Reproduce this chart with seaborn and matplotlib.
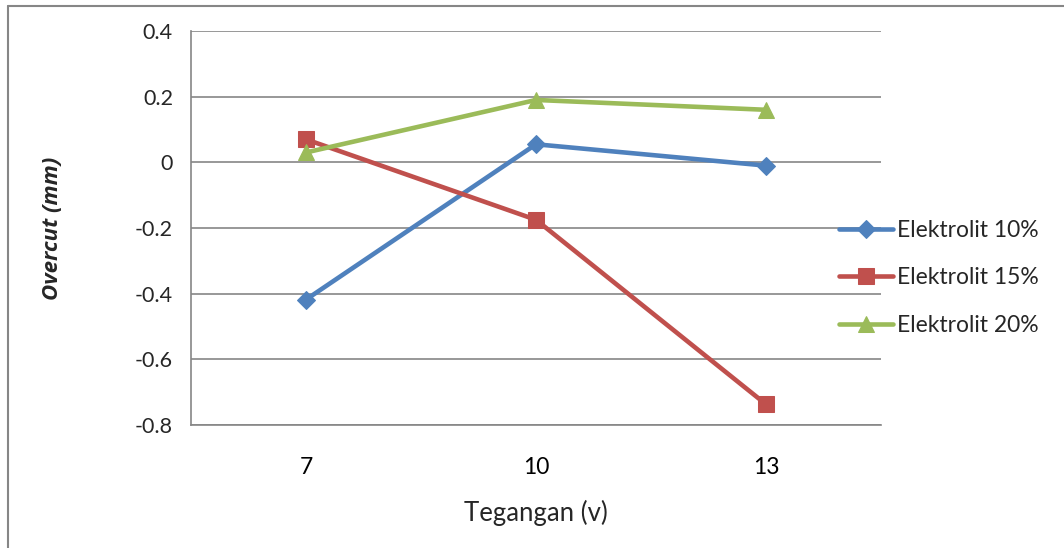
import numpy as np
import pandas as pd
import matplotlib
matplotlib.use('Agg')
from matplotlib import pyplot as plt
from matplotlib.lines import Line2D
import seaborn as sns

tegangan = ["7", "10", "13"]
series = ["Elektrolit 10%", "Elektrolit 15%", "Elektrolit 20%"]
elektrolit_10 = [-0.418, 0.055, -0.01]
elektrolit_15 = [0.07, -0.175, -0.737]
elektrolit_20 = [0.03, 0.19, 0.16]

rows = []
for name, vals in zip(series, [elektrolit_10, elektrolit_15, elektrolit_20]):
    for i, v in enumerate(vals):
        rows.append({"pos": i, "Tegangan": tegangan[i], "Overcut": v, "Series": name})
df = pd.DataFrame(rows)

sns.set_theme(style="white")
plt.rcParams['font.family'] = ['Lato', 'DejaVu Sans']

colors = ["#4F81BD", "#C0504D", "#9BBB59"]
markers = ["D", "s", "^"]
msizes = [9, 11, 12]
axis_col = "#868686"

fig = plt.figure(figsize=(10.64, 5.48), dpi=100)
ax = fig.add_axes([191/1064, 1-425/548, 690/1064, 394/548])

for name, c, m, ms in zip(series, colors, markers, msizes):
    sub = df[df["Series"] == name]
    sns.lineplot(data=sub, x="pos", y="Overcut", ax=ax, color=c, marker=m,
                 markersize=ms, markeredgecolor=c, linewidth=3.3, label=name)

ax.set_xlim(-0.5, 2.5)
ax.set_ylim(-0.8, 0.4)
ax.set_yticks(np.arange(-0.8, 0.41, 0.2))
ax.set_yticklabels(["-0.8", "-0.6", "-0.4", "-0.2", "0", "0.2", "0.4"])
ax.set_xticks([0, 1, 2])
ax.set_xticklabels(tegangan)
ax.set_xticks([-0.5, 0.5, 1.5, 2.5], minor=True)
ax.tick_params(axis="x", which="major", length=0, pad=23, labelsize=16.5, colors="black")
ax.tick_params(axis="x", which="minor", length=7, width=1.2, color=axis_col, direction="out")
ax.tick_params(axis="y", length=7, width=1.2, color=axis_col, direction="out", pad=6, labelsize=15.5)
ax.yaxis.grid(True, color=axis_col, linewidth=1.2)
ax.xaxis.grid(False)

for s in ["top", "right"]:
    ax.spines[s].set_visible(False)
for s in ["left", "bottom"]:
    ax.spines[s].set_color(axis_col)
    ax.spines[s].set_linewidth(1.2)

ax.set_xlabel("Tegangan (v)", fontsize=18.5, labelpad=16)
ax.set_ylabel("Overcut (mm)", fontsize=16, fontweight="bold", fontstyle="italic",
              family=["Open Sans", "DejaVu Sans"], labelpad=52)

ax.legend(loc="center left", bbox_to_anchor=(839/1064, 1-278/548), bbox_transform=fig.transFigure,
          frameon=False, fontsize=16.5, handlelength=2.35, handletextpad=0.2, labelspacing=1.15,
          borderpad=0, borderaxespad=0)

# outer chart border (left and top edges)
fig.add_artist(Line2D([8/1064, 8/1064], [0, 1-6/548], transform=fig.transFigure, color=axis_col, linewidth=1.5))
fig.add_artist(Line2D([8/1064, 1], [1-6/548, 1-6/548], transform=fig.transFigure, color=axis_col, linewidth=1.5))

fig.savefig("out.png", dpi=100)
